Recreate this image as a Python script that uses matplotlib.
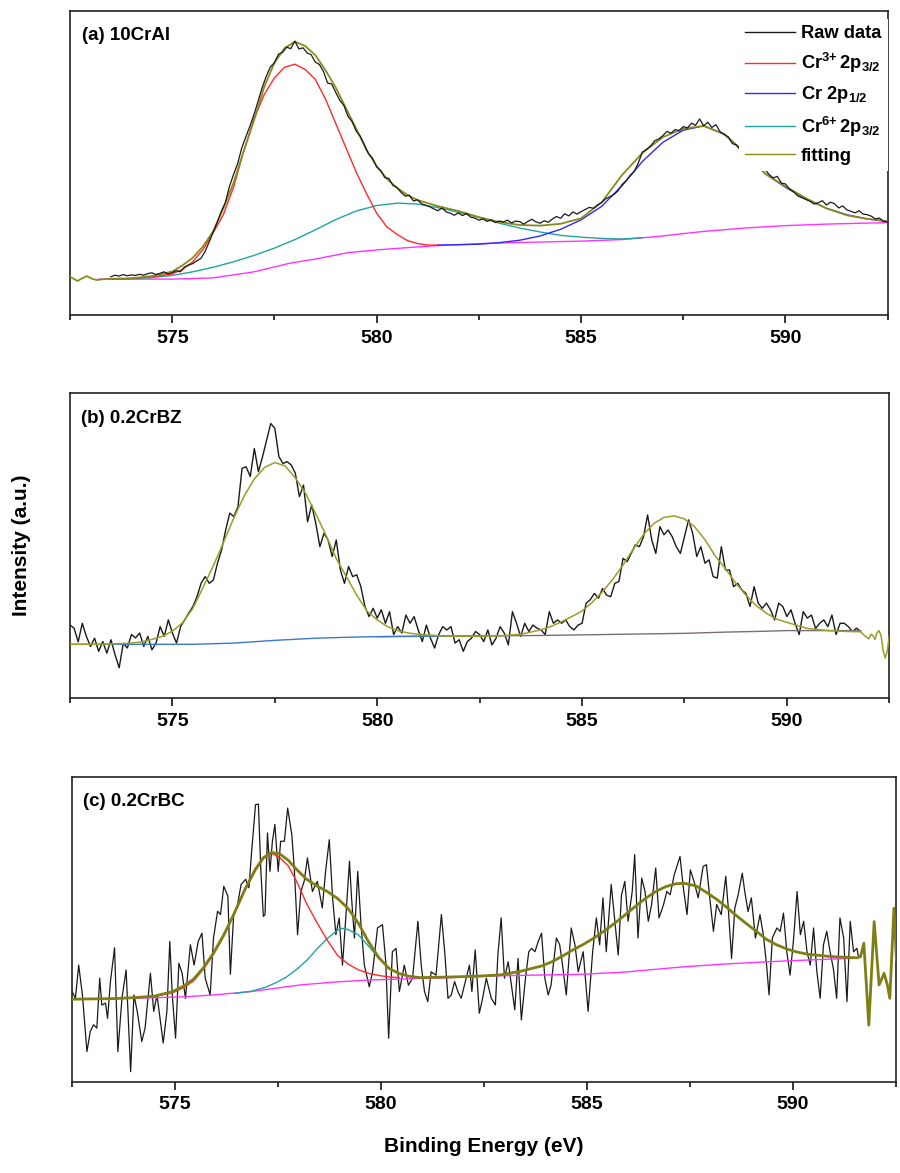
import numpy as np
import matplotlib
matplotlib.use("Agg")
import matplotlib.pyplot as plt
from matplotlib.ticker import MultipleLocator, NullLocator
from matplotlib.lines import Line2D

plt.rcParams['font.family'] = ['Liberation Sans', 'DejaVu Sans']
plt.rcParams['font.weight'] = 'bold'
plt.rcParams['mathtext.fontset'] = 'custom'
plt.rcParams['mathtext.rm'] = 'Liberation Sans:bold'
plt.rcParams['mathtext.it'] = 'Liberation Sans:bold'
plt.rcParams['mathtext.bf'] = 'Liberation Sans:bold'
plt.rcParams['mathtext.default'] = 'bf'

# ---------------- Panel (a) 10CrAl ----------------
raw_a_start = 573.5
raw_a_step = 0.1
raw_a = [12.6, 13.1, 12.8, 13.3, 12.9, 13.2, 13.0, 13.4, 13.1, 13.6,
         13.9, 13.3, 13.7, 14.2, 13.5, 13.9, 14.6, 14.2, 15.8, 16.4,
         16.9, 17.8, 18.6, 20.8, 23.9, 27.2, 30.5, 34.1, 37.0, 42.3,
         46.2, 49.8, 54.9, 58.6, 62.1, 65.9, 70.3, 74.8, 78.5, 81.6,
         83.0, 85.8, 86.4, 88.1, 87.6, 90.1, 87.5, 87.9, 86.2, 85.6,
         83.2, 82.4, 80.1, 76.3, 76.0, 73.2, 70.6, 68.9, 65.3, 63.6,
         60.5, 58.8, 56.0, 53.1, 51.6, 48.7, 47.5, 45.2, 44.9, 42.6,
         41.9, 40.3, 39.1, 39.4, 37.5, 37.9, 36.6, 36.1, 35.6, 34.9,
         34.3, 35.2, 33.9, 33.5, 32.8, 33.6, 32.7, 33.4, 32.2, 31.9,
         31.2, 31.6, 30.8, 31.3, 30.4, 30.9, 30.6, 31.2, 30.3, 30.9,
         30.7, 29.9, 30.8, 31.5, 30.6, 30.2, 31.0, 30.5, 31.6, 32.4,
         31.8, 33.3, 32.6, 33.9, 33.2, 34.0, 34.7, 35.4, 35.1, 36.2,
         37.0, 38.2, 38.9, 39.6, 40.8, 42.9, 44.1, 45.9, 47.2, 50.0,
         53.6, 54.5, 55.6, 57.3, 57.9, 59.0, 60.4, 59.8, 61.0, 60.6,
         62.0, 61.5, 63.1, 62.4, 64.5, 62.2, 63.4, 61.7, 62.6, 60.3,
         59.4, 58.6, 56.4, 55.9, 54.2, 53.1, 51.8, 49.9, 49.0, 47.6,
         47.9, 46.2, 45.1, 45.6, 43.4, 43.1, 41.4, 40.5, 39.2, 38.6,
         38.0, 37.4, 36.5, 36.9, 37.6, 36.2, 37.1, 36.6, 35.2, 35.9,
         34.6, 34.1, 33.6, 34.3, 33.2, 33.0, 32.5, 31.6, 31.9, 30.8,
         30.6]

cr3_a_E = [573.5, 574.0, 574.5, 575.0, 575.25, 575.5, 575.75, 576.0, 576.25, 576.5,
           576.75, 577.0, 577.25, 577.5, 577.75, 578.0, 578.25, 578.5, 578.75, 579.0,
           579.25, 579.5, 579.75, 580.0, 580.25, 580.5, 580.75, 581.0, 581.25, 581.5]
cr3_a_I = [11.8, 12.0, 12.6, 13.5, 15.0, 17.5, 21.5, 27.0, 33.0, 42.0,
           54.0, 64.5, 72.5, 78.0, 81.5, 82.5, 80.8, 77.5, 71.0, 63.0,
           55.0, 47.0, 40.0, 33.5, 29.0, 26.5, 24.5, 23.5, 23.0, 23.0]

cr6_a_E = [573.5, 574.0, 574.5, 575.0, 575.5, 576.0, 576.5, 577.0, 577.5, 578.0,
           578.5, 579.0, 579.5, 580.0, 580.5, 581.0, 581.5, 582.0, 582.5, 583.0,
           583.5, 584.0, 584.5, 585.0, 585.5, 586.0, 586.5]
cr6_a_I = [11.8, 11.9, 12.3, 13.0, 14.2, 15.7, 17.5, 19.6, 22.0, 24.8,
           28.0, 31.4, 34.2, 36.0, 36.8, 36.5, 35.3, 33.8, 32.1, 30.2,
           28.6, 27.3, 26.2, 25.6, 25.2, 25.0, 25.4]

cr12_a_E = [581.5, 582.0, 582.5, 583.0, 583.5, 584.0, 584.5, 585.0, 585.5, 586.0,
            586.5, 587.0, 587.5, 588.0, 588.5, 589.0, 589.5, 590.0, 590.5, 591.0,
            591.5, 592.0, 592.5]
cr12_a_I = [23.0, 23.1, 23.3, 23.8, 24.6, 26.0, 28.2, 31.3, 35.7, 42.5,
            50.5, 56.8, 60.8, 62.2, 59.5, 53.5, 46.5, 42.0, 38.2, 35.1,
            33.0, 31.6, 30.8]

base_a_E = [573.2, 574.0, 575.0, 576.0, 577.0, 577.9, 578.5, 579.3, 580.0, 581.0,
            581.7, 583.0, 584.0, 585.0, 586.0, 587.0, 588.0, 589.0, 590.0, 591.0, 592.5]
base_a_I = [11.8, 11.8, 11.8, 12.2, 14.2, 17.1, 18.4, 20.5, 21.4, 22.4,
            23.0, 23.7, 24.0, 24.3, 24.8, 26.0, 27.5, 28.6, 29.4, 29.9, 30.4]

fit_a_E = [572.5, 572.58, 572.68, 572.79, 572.91, 573.03, 573.15, 573.27, 573.4, 573.5,
           574.0, 574.5, 575.0, 575.25, 575.5, 575.75, 576.0, 576.25, 576.5, 576.75,
           577.0, 577.25, 577.5, 577.75, 578.0, 578.25, 578.5, 578.75, 579.0, 579.25,
           579.5, 579.75, 580.0, 580.25, 580.5, 580.75, 581.0, 581.5, 582.0, 582.5,
           583.0, 583.5, 584.0, 584.5, 585.0, 585.5, 586.0, 586.5, 587.0, 587.5,
           588.0, 588.5, 589.0, 589.5, 590.0, 590.5, 591.0, 591.5, 592.0, 592.5]
fit_a_I = [12.6, 12.0, 11.2, 12.0, 12.8, 12.0, 11.5, 11.7, 11.9, 11.9,
           12.1, 12.8, 14.3, 16.3, 18.8, 22.5, 27.5, 35.0, 43.5, 54.0,
           64.0, 75.0, 83.0, 87.8, 89.9, 88.5, 85.5, 80.5, 74.8, 68.0,
           61.3, 54.3, 49.0, 44.8, 41.8, 39.5, 37.8, 35.8, 34.2, 32.2,
           30.6, 29.6, 29.4, 30.0, 31.8, 37.0, 46.0, 53.3, 58.5, 61.3,
           62.2, 59.5, 53.5, 46.5, 42.3, 38.4, 35.1, 32.8, 31.6, 30.8]

# ---------------- Panel (b) 0.2CrBZ ----------------
raw_b_start = 572.5
raw_b_step = 0.1
raw_b = [24.0, 23.0, 18.5, 24.6, 20.3, 17.0, 19.7, 15.4, 18.6, 14.8,
         19.2, 14.3, 10.0, 18.0, 16.5, 20.9, 19.8, 21.4, 17.0, 20.3,
         15.9, 18.1, 23.5, 20.3, 25.7, 21.4, 18.1, 23.5, 25.7, 28.0,
         30.1, 33.3, 37.7, 39.9, 37.7, 38.8, 44.3, 48.6, 55.2, 60.7,
         59.6, 62.8, 75.4, 75.9, 72.7, 81.9, 74.3, 79.2, 84.6, 90.1,
         88.5, 79.2, 77.0, 77.6, 76.5, 73.8, 66.1, 69.9, 57.9, 63.4,
         57.4, 49.7, 54.1, 51.9, 46.5, 51.9, 42.1, 37.7, 43.2, 39.9,
         40.5, 36.6, 30.1, 26.8, 29.5, 26.3, 29.0, 24.6, 28.4, 20.9,
         23.5, 21.4, 27.3, 24.6, 26.8, 22.4, 18.6, 24.0, 19.7, 16.5,
         20.9, 23.5, 22.4, 23.5,
         18.1, 19.2, 15.4, 18.6, 19.7, 21.9, 20.9, 18.6, 22.4, 17.5,
         19.7, 23.5, 21.4, 17.5, 28.4, 24.6, 20.3, 24.6, 21.9, 24.0,
         23.0, 22.4, 20.9, 28.4, 24.6, 25.7, 24.6, 25.7, 23.5, 22.4,
         24.0, 24.6, 31.2, 32.3, 34.4, 32.8, 36.0, 33.8, 33.3, 37.7,
         38.3, 45.9, 44.8, 47.5, 50.3, 49.7, 53.0, 60.1, 52.0, 47.5,
         56.3, 53.6, 55.2, 53.0, 49.7, 47.5, 53.0, 58.5, 54.1, 46.5,
         49.7, 44.3, 45.4, 39.9, 39.4, 49.7, 42.1, 42.1, 36.6, 37.7,
         35.5, 34.4, 30.1, 36.6, 31.2, 29.5, 31.2, 29.0, 25.7, 31.2,
         30.1, 26.8, 29.0, 24.6, 20.9, 28.4, 26.3, 27.3, 22.9, 24.6,
         25.7, 23.5, 27.3, 20.9, 24.6, 24.6, 23.5, 21.9, 23.0, 21.9]

fit_b_E = [572.5, 573.0, 573.5, 574.0, 574.25, 574.5, 574.75, 575.0, 575.25, 575.5,
           575.75, 576.0, 576.25, 576.5, 576.75, 577.0, 577.25, 577.5, 577.75, 578.0,
           578.25, 578.5, 578.75, 579.0, 579.25, 579.5, 579.75, 580.0, 580.25, 580.5,
           580.75, 581.0, 581.5, 582.0, 582.5, 583.0, 583.5, 583.75, 584.0, 584.25,
           584.5, 584.75, 585.0, 585.25, 585.5, 585.75, 586.0, 586.25, 586.5, 586.75,
           587.0, 587.25, 587.5, 587.75, 588.0, 588.25, 588.5, 588.75, 589.0, 589.25,
           589.5, 589.75, 590.0, 590.5, 591.0, 591.5, 591.8, 591.9, 592.0, 592.05,
           592.1, 592.15, 592.2, 592.25, 592.3, 592.35, 592.4, 592.45, 592.5]
fit_b_I = [17.7, 17.7, 17.8, 18.1, 18.5, 19.3, 20.3, 22.0, 24.8, 29.5,
           36.4, 43.5, 51.2, 59.2, 66.3, 71.9, 75.7, 77.3, 76.2, 72.3,
           67.2, 60.5, 53.4, 45.8, 39.8, 33.8, 28.6, 25.7, 23.5, 22.2,
           21.4, 21.0, 20.5, 20.3, 20.3, 20.5, 21.0, 21.7, 22.5, 23.6,
           25.1, 26.8, 28.6, 31.5, 35.0, 39.0, 43.7, 48.9, 53.7, 57.3,
           59.3, 59.8, 58.8, 56.2, 52.0, 46.7, 42.5, 37.8, 33.8, 30.4,
           27.9, 25.9, 24.9, 22.9, 22.2, 21.9, 21.8, 20.5, 19.5, 21.0,
           20.6, 19.3, 21.5, 22.2, 20.5, 15.5, 13.2, 15.5, 20.5]

base_b1_E = [572.5, 575.5, 576.5, 577.5, 578.5, 579.5, 580.5, 581.5, 582.5]
base_b1_I = [17.7, 17.7, 18.1, 19.0, 19.7, 20.1, 20.3, 20.4, 20.4]
base_b2_E = [580.0, 582.0, 583.0, 584.0, 585.0, 586.0, 587.0, 587.5, 588.5, 589.5, 590.0, 591.8]
base_b2_I = [20.2, 20.4, 20.5, 20.6, 20.8, 21.0, 21.2, 21.3, 21.7, 22.0, 22.2, 22.2]

# ---------------- Panel (c) 0.2CrBC ----------------
raw_c_E = [572.51, 572.59, 572.67, 572.76, 572.87, 572.95, 573.03, 573.11, 573.18, 573.23,
           573.32, 573.37, 573.44, 573.54, 573.62, 573.72, 573.82, 573.93, 574.01, 574.09,
           574.20, 574.28, 574.41, 574.49, 574.57, 574.72, 574.81, 574.88, 574.94, 575.02,
           575.10, 575.18, 575.26, 575.38, 575.47, 575.57, 575.66, 575.74, 575.86, 575.94,
           576.04, 576.11, 576.19, 576.29, 576.35, 576.43, 576.51, 576.61, 576.72, 576.80,
           576.86, 576.96, 577.03, 577.09, 577.15, 577.19, 577.25, 577.31, 577.37, 577.43,
           577.51, 577.57, 577.66, 577.74, 577.84, 577.90, 577.98, 578.06, 578.14, 578.22,
           578.34, 578.46, 578.58, 578.66, 578.75, 578.83, 578.91, 578.99, 579.07, 579.15,
           579.24, 579.29, 579.36, 579.44, 579.52, 579.60, 579.72, 579.80, 579.92, 580.04,
           580.12, 580.19, 580.28, 580.37, 580.45, 580.57, 580.67, 580.77, 580.90, 580.98,
           581.06, 581.14, 581.22, 581.34, 581.47, 581.55, 581.63, 581.71, 581.79, 581.87,
           581.95, 582.07, 582.15, 582.21, 582.29, 582.39, 582.47, 582.56, 582.68, 582.78,
           582.84, 582.92, 583.00, 583.09, 583.17, 583.25, 583.33, 583.41, 583.51, 583.59,
           583.66, 583.74, 583.82, 583.90, 583.98, 584.06, 584.13, 584.26, 584.34, 584.42,
           584.50, 584.62, 584.71, 584.79, 584.91, 585.03, 585.14, 585.23, 585.31, 585.39,
           585.47, 585.59, 585.67, 585.76, 585.84, 585.92, 586.00, 586.10, 586.16, 586.24,
           586.33, 586.41, 586.49, 586.57, 586.67, 586.75, 586.86, 586.94, 587.02, 587.12,
           587.26, 587.34, 587.43, 587.51, 587.60, 587.70, 587.82, 587.90, 587.99, 588.07,
           588.15, 588.26, 588.37, 588.43, 588.51, 588.59, 588.67, 588.77, 588.83, 588.91,
           588.99, 589.09, 589.20, 589.28, 589.36, 589.42, 589.50, 589.61, 589.69, 589.77,
           589.85, 589.93, 590.01, 590.10, 590.18, 590.26, 590.34, 590.42, 590.50, 590.58,
           590.66, 590.74, 590.82, 590.90, 590.98, 591.06, 591.14, 591.23, 591.31, 591.39,
           591.47, 591.55, 591.59]
raw_c_I = [29.6, 27.4, 38.3, 28.5, 9.9, 16.5, 18.7, 17.6, 34.0, 25.2,
           25.8, 20.8, 32.9, 44.0, 9.9, 27.4, 36.7, 3.3, 28.5, 23.1,
           13.2, 17.6, 35.6, 23.1, 28.5, 12.7, 23.1, 46.1, 28.5, 14.3,
           38.9, 35.6, 27.4, 45.0, 38.3, 46.1, 48.8, 34.0, 28.5, 47.2,
           56.0, 54.9, 64.2, 60.9, 35.3, 54.9, 57.1, 64.8, 66.5, 63.7,
           74.6, 91.0, 91.2, 69.1, 54.3, 54.9, 81.7, 69.1, 79.0, 84.5,
           69.1, 79.0, 79.0, 89.9, 81.2, 70.2, 48.3, 62.5, 65.8, 73.5,
           62.5, 65.8, 57.1, 69.1, 79.5, 60.4, 48.3, 53.8, 38.3, 53.8,
           72.4, 60.4, 47.2, 69.1, 51.6, 38.3, 31.2, 36.1, 50.5, 51.6,
           39.4, 14.3, 42.7, 43.8, 29.6, 38.3, 31.7, 34.0, 52.7, 38.3,
           29.6, 26.3, 36.1, 35.0, 54.9, 42.7, 27.4, 28.5, 32.9, 29.6,
           27.4, 34.0, 38.3, 29.6, 43.3, 22.5, 27.4, 34.0, 27.4, 25.2,
           41.6, 53.8, 34.0, 39.4, 31.7, 23.6, 40.5, 20.3, 34.0, 42.7,
           43.8, 42.7, 46.1, 48.8, 34.0, 28.5, 31.7, 47.2, 45.0, 37.2,
           28.5, 50.5, 45.0, 36.1, 42.7, 23.1, 42.7, 53.8, 45.0, 60.4,
           42.7, 64.8, 53.8, 41.6, 61.4, 65.8, 52.7, 62.5, 74.6, 47.2,
           66.9, 62.5, 52.7, 58.2, 70.2, 53.8, 58.2, 62.5, 61.4, 68.0,
           74.0, 63.7, 54.9, 69.6, 65.8, 60.4, 70.7, 71.3, 59.3, 49.4,
           58.2, 54.9, 67.5, 57.1, 40.5, 57.1, 61.4, 68.5, 62.5, 55.9,
           60.4, 47.2, 54.9, 48.3, 38.3, 28.5, 47.2, 50.5, 49.4, 55.4,
           42.7, 35.0, 46.1, 62.5, 48.3, 52.7, 42.7, 38.3, 50.5, 36.1,
           27.4, 45.0, 49.4, 42.7, 37.2, 27.4, 53.8, 47.2, 26.3, 52.7,
           42.7, 43.8, 41.1]

cr3_c_E = [573.95, 574.45, 574.95, 575.2, 575.45, 575.7, 575.95, 576.2, 576.45, 576.7,
           576.95, 577.15, 577.35, 577.55, 577.75, 577.95, 578.2, 578.45, 578.7, 578.95,
           579.2, 579.45, 579.7, 579.95, 580.2, 580.45]
cr3_c_I = [27.4, 27.9, 29.2, 30.8, 33.0, 37.0, 42.0, 48.0, 55.5, 63.5,
           70.0, 73.8, 75.0, 73.6, 71.0, 66.0, 58.5, 52.3, 46.5, 41.5,
           38.7, 36.8, 35.6, 34.9, 34.4, 34.2]

cr6_c_E = [576.45, 576.85, 577.2, 577.45, 577.7, 577.95, 578.2, 578.45, 578.7, 578.95,
           579.05, 579.2, 579.45, 579.7, 579.95, 580.2, 580.45, 580.7, 580.95]
cr6_c_I = [29.0, 29.7, 31.0, 32.5, 34.3, 36.8, 39.8, 43.6, 47.0, 49.8,
           50.4, 50.0, 48.3, 44.6, 40.5, 37.3, 35.5, 34.6, 34.2]

base_c_E = [572.5, 574.0, 575.25, 575.95, 576.85, 578.05, 578.95, 579.7, 580.9, 581.7,
            582.9, 584.9, 585.9, 587.4, 588.4, 589.4, 590.4, 591.56]
base_c_I = [27.1, 27.4, 27.9, 28.5, 29.6, 31.8, 32.8, 33.4, 33.9, 34.2,
            34.8, 35.3, 36.0, 37.8, 38.7, 39.4, 40.0, 40.6]

fit_c_E = [572.5, 573.5, 574.0, 574.5, 574.95, 575.2, 575.45, 575.7, 575.95, 576.2,
           576.45, 576.7, 576.95, 577.15, 577.35, 577.55, 577.75, 577.95, 578.2, 578.45,
           578.7, 578.95, 579.2, 579.45, 579.7, 579.95, 580.2, 580.45, 580.7, 580.95,
           581.7, 582.4, 582.9, 583.4, 583.9, 584.15, 584.4, 584.65, 584.9, 585.15,
           585.4, 585.65, 585.9, 586.15, 586.4, 586.65, 586.9, 587.15, 587.35, 587.65,
           587.9, 588.15, 588.4, 588.65, 588.9, 589.15, 589.35, 589.6, 589.85, 590.1,
           590.35, 590.85, 591.35, 591.56, 591.64, 591.72, 591.84, 591.97, 592.09, 592.21,
           592.29, 592.35, 592.45, 592.51]
fit_c_I = [27.1, 27.3, 27.6, 28.1, 29.6, 31.3, 33.6, 37.5, 42.5, 48.5,
           55.5, 63.0, 69.5, 73.5, 75.3, 74.8, 72.8, 69.8, 66.5, 64.3,
           62.5, 60.2, 57.0, 52.2, 46.0, 40.8, 37.2, 35.5, 34.6, 34.2,
           34.4, 34.7, 35.1, 36.3, 38.0, 39.4, 41.2, 43.2, 45.0, 47.0,
           49.3, 51.8, 54.5, 57.3, 60.0, 62.3, 64.0, 65.0, 65.2, 64.3,
           62.2, 59.9, 57.2, 54.3, 51.6, 49.0, 46.8, 45.0, 43.6, 42.6,
           41.9, 41.2, 40.8, 40.7, 41.1, 45.5, 18.6, 52.6, 31.8, 35.6,
           31.8, 27.4, 57.0, 40.0]

panel_labels = ['(a) 10CrAl', '(b) 0.2CrBZ', '(c) 0.2CrBC']
legend_labels = ['Raw data', r'Cr$^{3{+}}\,$2p$_{3/2}$', 'Cr 2p$_{1/2}$',
                 r'Cr$^{6{+}}\,$2p$_{3/2}$', 'fitting']
x_label = 'Binding Energy (eV)'
y_label = 'Intensity (a.u.)'

# ---------------- styling ----------------
C_RAW = '#1a1a1a'
C_RED = '#ff2a2a'
C_BLUE = '#2a2aff'
C_TEAL = '#22a3a3'
C_OLIVE = '#8a8a1e'
C_MAG = '#ff33ff'

W, H = 900, 1173
fig = plt.figure(figsize=(W / 100, H / 100), dpi=100)

def px_axes(l, t, r, b):
    return fig.add_axes([l / W, 1 - b / H, (r - l) / W, (b - t) / H])

ax_a = px_axes(70, 11, 887.7, 315)
ax_b = px_axes(70, 393.3, 889.3, 698.3)
ax_c = px_axes(71.7, 777.3, 896, 1081.7)

for ax in (ax_a, ax_b, ax_c):
    ax.set_xlim(572.5, 592.5)
    ax.set_ylim(0, 100)
    ax.xaxis.set_major_locator(MultipleLocator(5))
    ax.xaxis.set_minor_locator(MultipleLocator(2.5))
    ax.yaxis.set_major_locator(NullLocator())
    ax.tick_params(axis='x', which='major', direction='out', length=5.5, width=1.1,
                   labelsize=14, pad=5)
    ax.tick_params(axis='x', which='minor', direction='out', length=3.5, width=1.1)
    for lab in ax.get_xticklabels():
        lab.set_fontweight('bold')
    for s in ax.spines.values():
        s.set_linewidth(1.2)
        s.set_color('#222222')

# panel a
e_a = raw_a_start + raw_a_step * np.arange(len(raw_a))
ax_a.plot(base_a_E, base_a_I, color=C_MAG, lw=1.0, zorder=2)
ax_a.plot(cr6_a_E, cr6_a_I, color=C_TEAL, lw=1.0, zorder=3)
ax_a.plot(cr3_a_E, cr3_a_I, color=C_RED, lw=1.0, zorder=3)
ax_a.plot(cr12_a_E, cr12_a_I, color=C_BLUE, lw=1.0, zorder=3)
ax_a.plot(fit_a_E, fit_a_I, color=C_OLIVE, lw=1.3, zorder=4)
ax_a.plot(e_a, raw_a, color=C_RAW, lw=0.9, zorder=5)

handles = [Line2D([], [], color=c, lw=1.0) for c in (C_RAW, C_RED, C_BLUE, C_TEAL, C_OLIVE)]
leg = ax_a.legend(handles, legend_labels, loc='upper right', bbox_to_anchor=(1.0, 0.975),
                  frameon=True, fancybox=False, framealpha=1.0, edgecolor='none',
                  facecolor='white', fontsize=13.2, handlelength=2.75, handletextpad=0.3,
                  labelspacing=0.5, borderpad=0.35, borderaxespad=0.0)
leg.set_zorder(10)
for t in leg.get_texts():
    t.set_fontweight('bold')

# panel b
e_b = raw_b_start + raw_b_step * np.arange(len(raw_b))
ax_b.plot(e_b, raw_b, color=C_RAW, lw=1.0, zorder=2)
ax_b.plot(base_b2_E, base_b2_I, color='#7a6e74', lw=1.0, zorder=3)
ax_b.plot(base_b1_E, base_b1_I, color='#3a78cc', lw=1.0, zorder=4)
ax_b.plot(fit_b_E, fit_b_I, color='#9c9c28', lw=1.1, zorder=5)

# panel c
ax_c.plot(raw_c_E, raw_c_I, color=C_RAW, lw=0.9, zorder=2)
ax_c.plot(base_c_E, base_c_I, color=C_MAG, lw=1.0, zorder=3)
ax_c.plot(cr6_c_E, cr6_c_I, color=C_TEAL, lw=1.0, zorder=4)
ax_c.plot(cr3_c_E, cr3_c_I, color=C_RED, lw=1.0, zorder=4)
ax_c.plot(fit_c_E, fit_c_I, color='#7e7e14', lw=2.0, zorder=5)

# panel labels
for ax, lab, pos in zip((ax_a, ax_b, ax_c), panel_labels,
                        ((0.0143, 0.918), (0.0134, 0.919), (0.0137, 0.922))):
    ax.text(pos[0], pos[1], lab, transform=ax.transAxes, fontsize=13.5,
            fontweight='bold', ha='left', va='center', zorder=11)

fig.text(22 / W, 1 - 545 / H, y_label, rotation=90, fontsize=15, fontweight='bold',
         ha='center', va='center')
fig.text(484 / W, 1 - 1147 / H, x_label, fontsize=15, fontweight='bold',
         ha='center', va='center')

fig.savefig('out.png', dpi=100)
